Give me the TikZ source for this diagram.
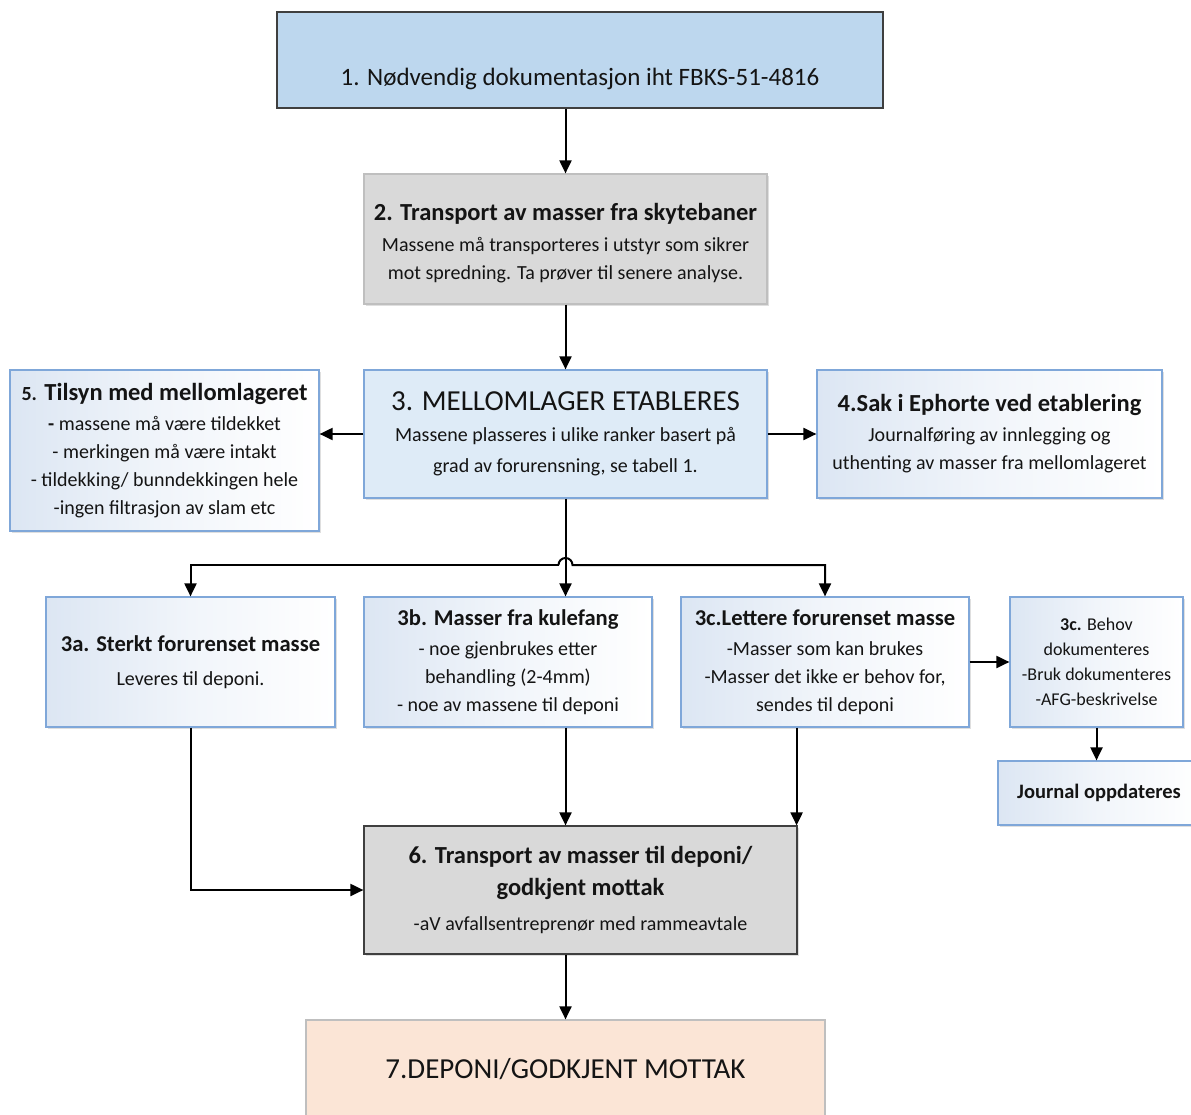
\documentclass[tikz,border=0pt]{standalone}
\usepackage{fontspec}
\setmainfont{Carlito}
\usetikzlibrary{arrows.meta,shadows,calc}
\definecolor{hdrblue}{HTML}{BDD7EE}
\definecolor{midblue}{HTML}{DEEBF7}
\definecolor{edgeblue}{HTML}{7FA7D9}
\definecolor{gblue}{HTML}{DCE6F3}
\definecolor{greyfill}{HTML}{D9D9D9}
\definecolor{peach}{HTML}{FBE5D6}
\definecolor{darkedge}{HTML}{3F3F3F}
\definecolor{lightedge}{HTML}{BFBFBF}
\definecolor{ink}{HTML}{141414}
\newcommand\bodyf{\fontsize{20}{28}\selectfont}
\newcommand\titf{\fontsize{24.5}{28}\selectfont\bfseries}
\newcommand\titsm{\fontsize{22.6}{28}\selectfont\bfseries}
\tikzset{
  box/.style={rectangle, line width=1.2pt, align=center, inner sep=0pt, text=ink, font=\bodyf},
  sz/.style 2 args={minimum width=#1pt, minimum height=#2pt},
  shad/.style={drop shadow={shadow xshift=2pt, shadow yshift=-2pt, opacity=0.25, fill=gray}},
  gradbox/.style={box, draw=edgeblue, shading angle=-60, left color=gblue, right color=white, middle color=white!60!gblue, shad},
  arr/.style={line width=2pt, draw=black, -{Triangle[length=13pt,width=12pt]}},
}
\begin{document}
\begin{tikzpicture}[x=1pt,y=-1pt]
\useasboundingbox (0,0) rectangle (1191,1115);
\clip (0,0) rectangle (1191,1115);
% boxes
\node[box, draw=darkedge, fill=hdrblue, sz={606}{96}] (b1) at (580,60) {};
\node[box, font=\fontsize{25}{28}\selectfont] (t1) at (580,79) {1. Nødvendig dokumentasjon iht FBKS-51-4816};
\node[box, draw=lightedge, fill=greyfill, shad, sz={403}{130}] (b2) at (565.5,239)
  {\rule{0pt}{26pt}{\titf 2. Transport av masser fra skytebaner}\\[3pt]Massene må transporteres i utstyr som sikrer\\mot spredning. Ta prøver til senere analyse.};
\node[box, draw=edgeblue, fill=midblue, shad, sz={403}{128}] (b3) at (565.5,434)
  {{\fontsize{29}{30}\selectfont 3. MELLOMLAGER ETABLERES}\\[3pt]Massene plasseres i ulike ranker basert på\\[3pt]grad av forurensning, se tabell 1.};
\node[gradbox, sz={309}{161}] (b5) at (164.5,450.5)
  {{\titf{\fontsize{20}{28}\selectfont 5.} Tilsyn med mellomlageret}\\[2pt]\textbf{-} massene må være tildekket\\- merkingen må være intakt\\- tildekking/ bunndekkingen hele\\-ingen filtrasjon av slam etc};
\node[gradbox, sz={345}{128}] (b4) at (989.5,434)
  {{\titf 4.Sak i Ephorte ved etablering}\\[2pt]Journalføring av innlegging og\\uthenting av masser fra mellomlageret};
\node[gradbox, sz={289}{130}] (b3a) at (190.5,662)
  {{\titsm 3a. Sterkt forurenset masse}\\[6pt]Leveres til deponi.};
\node[gradbox, sz={288}{130}] (b3b) at (508,662)
  {{\titsm 3b. Masser fra kulefang}\\[2pt]- noe gjenbrukes etter\\behandling (2-4mm)\\- noe av massene til deponi};
\node[gradbox, sz={288}{130}] (b3c) at (825,662)
  {{\titsm 3c.Lettere forurenset masse}\\[2pt]-Masser som kan brukes\\-Masser det ikke er behov for,\\sendes til deponi};
\node[gradbox, sz={173}{130}, font=\fontsize{18}{25}\selectfont] (b3d) at (1096.5,662)
  {\textbf{3c.} Behov\\dokumenteres\\-Bruk dokumenteres\\-AFG-beskrivelse};
\node[gradbox, sz={202}{64}, font=\fontsize{20.5}{24}\selectfont\bfseries] (bj) at (1099,793) {Journal oppdateres};
\node[box, draw=darkedge, fill=greyfill, shad, sz={433}{128}] (b6) at (580.5,890)
  {{\titf 6. Transport av masser til deponi/}\\[4pt]{\titf godkjent mottak}\\[7pt]-aV avfallsentreprenør med rammeavtale};
\node[box, draw=lightedge, fill=peach, sz={519}{98}, font=\fontsize{29}{30}\selectfont] (b7) at (565.5,1069) {7.DEPONI/GODKJENT MOTTAK};
% connectors
\draw[arr] (b1.south -| b3) -- (b2.north -| b3);
\draw[arr] (b2.south -| b3) -- (b3.north);
\draw[arr] (b3.west) -- (b5.east |- b3.west);
\draw[arr] (b3.east) -- (b4.west);
\coordinate (j) at (b3.south |- 0,565);
\draw[arr] (b3.south) -- (b3.south |- b3b.north);
\draw[arr] ($(j)+(-7,0)$) -- (j -| b3a) -- (b3a.north);
\draw[arr] ($(j)+(-7,0)$) arc[start angle=180, end angle=360, radius=7] -- (j -| b3c) -- (b3c.north);
\draw[arr] (b3a.south) |- (b6.west);
\draw[arr] (b3b.south -| b3) -- (b6.north -| b3);
\draw[arr] (b3c.south -| b6.north east) ++(-1,0) -- ([xshift=-1pt]b6.north east);
\draw[arr] (b3c.east) -- (b3d.west);
\draw[arr] (b3d.south) -- (b3d.south |- bj.north);
\draw[arr] (b6.south -| b3) -- (b7.north -| b3);
\end{tikzpicture}
\end{document}
